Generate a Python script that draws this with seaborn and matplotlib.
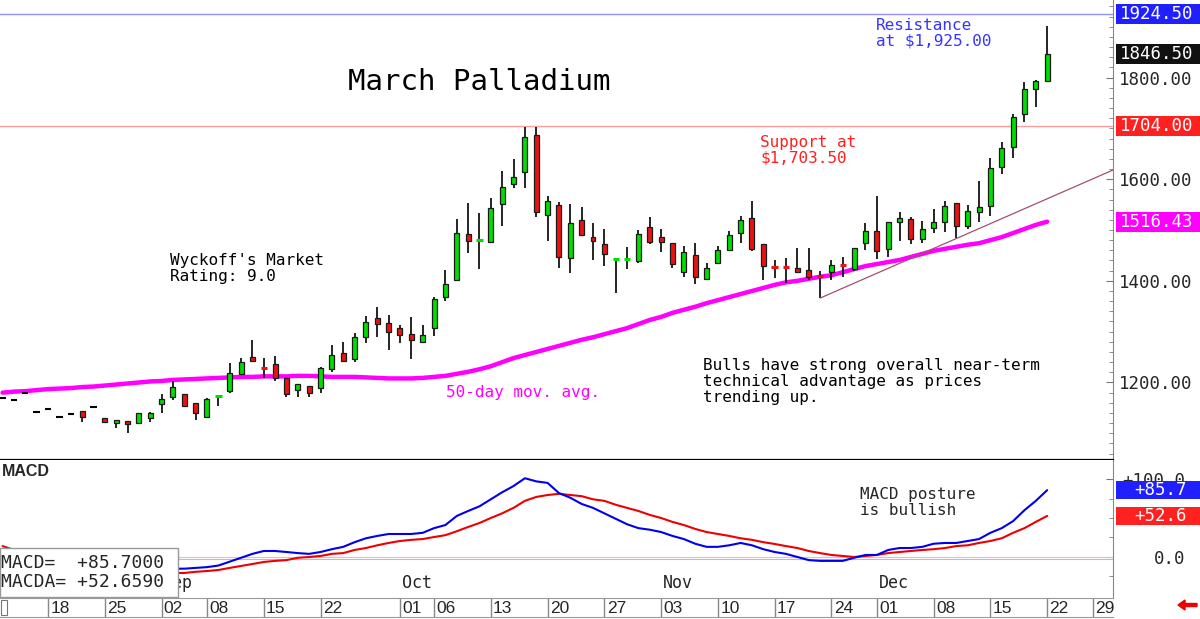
import numpy as np
import pandas as pd
import matplotlib
matplotlib.use("Agg")
import matplotlib.pyplot as plt
import matplotlib.transforms as mtransforms
from matplotlib.patches import Rectangle
import seaborn as sns

# --- trading calendar (2025, exchange holidays removed) ---
holidays = ["2025-09-01", "2025-11-27", "2025-12-25"]
calendar = [d for d in pd.bdate_range("2025-08-12", "2025-12-31")
            if d.strftime("%Y-%m-%d") not in holidays]
pos = {d.strftime("%Y-%m-%d"): i for i, d in enumerate(calendar)}

tick_dates = ["2025-08-18", "2025-08-25", "2025-09-02", "2025-09-08", "2025-09-15",
              "2025-09-22", "2025-10-01", "2025-10-06", "2025-10-13", "2025-10-20",
              "2025-10-27", "2025-11-03", "2025-11-10", "2025-11-17", "2025-11-24",
              "2025-12-01", "2025-12-08", "2025-12-15", "2025-12-22", "2025-12-29"]
month_dates = ["2025-09-02", "2025-10-01", "2025-11-03", "2025-12-01"]
month_labels = ["Sep", "Oct", "Nov", "Dec"]

# --- daily OHLC, March palladium ---
opens = [1169.5, 1165.6, 1179.4, 1142, 1148, 1132, 1138, 1144, 1152, 1130,
         1120, 1124, 1120, 1130, 1158, 1172, 1177, 1160, 1132, 1173,
         1183, 1217, 1250, 1229, 1236, 1209, 1185, 1193, 1189, 1226,
         1258, 1246, 1290, 1327, 1317, 1307, 1295, 1280, 1307, 1368,
         1402, 1492, 1480, 1476, 1551, 1590, 1614, 1687, 1529, 1549,
         1445, 1520, 1486, 1472, 1442, 1442, 1439, 1506, 1486, 1474,
         1417, 1451, 1404, 1435, 1461, 1494, 1524, 1472, 1428, 1428,
         1425, 1421, 1410, 1417, 1432, 1423, 1474, 1498, 1463, 1516,
         1522, 1482, 1504, 1516, 1553, 1508, 1535, 1547, 1624, 1663,
         1728, 1777, 1793]
highs = [1169.5, 1165.6, 1179.4, 1142, 1148, 1132, 1138, 1144, 1152, 1130,
         1126, 1124, 1140, 1141, 1178, 1203, 1178, 1160, 1170, 1174,
         1238, 1248, 1284, 1248, 1252, 1209, 1197, 1193, 1230, 1274,
         1280, 1297, 1331, 1348, 1333, 1313, 1329, 1313, 1368, 1421,
         1522, 1553, 1533, 1563, 1616, 1640, 1703, 1703, 1567, 1555,
         1551, 1545, 1514, 1502, 1443, 1467, 1500, 1526, 1502, 1474,
         1468, 1474, 1435, 1468, 1498, 1528, 1557, 1472, 1441, 1445,
         1465, 1465, 1419, 1441, 1447, 1465, 1514, 1567, 1516, 1535,
         1526, 1518, 1541, 1557, 1553, 1549, 1596, 1642, 1673, 1728,
         1791, 1795, 1901]
lows = [1169.5, 1165.6, 1179.4, 1142, 1148, 1132, 1138, 1122, 1152, 1122,
        1110, 1101, 1120, 1122, 1140, 1166, 1153, 1126, 1132, 1154,
        1179, 1216, 1242, 1209, 1203, 1171, 1171, 1171, 1179, 1220,
        1240, 1240, 1278, 1290, 1264, 1278, 1246, 1278, 1291, 1360,
        1402, 1455, 1423, 1476, 1508, 1583, 1583, 1526, 1478, 1425,
        1415, 1490, 1441, 1429, 1376, 1423, 1435, 1472, 1457, 1425,
        1408, 1394, 1404, 1435, 1461, 1474, 1459, 1402, 1406, 1396,
        1415, 1402, 1366, 1402, 1408, 1419, 1461, 1443, 1447, 1478,
        1472, 1474, 1494, 1496, 1484, 1502, 1516, 1527, 1610, 1642,
        1712, 1742, 1793]
closes = [1169.5, 1165.6, 1179.4, 1142, 1148, 1132, 1138, 1132, 1152, 1122,
          1126, 1118, 1140, 1140, 1168, 1191, 1154, 1140, 1168, 1174,
          1219, 1240, 1242, 1228, 1209, 1177, 1197, 1179, 1228, 1254,
          1242, 1290, 1319, 1315, 1299, 1293, 1284, 1293, 1364, 1394,
          1494, 1478, 1481, 1543, 1585, 1604, 1683, 1535, 1557, 1447,
          1514, 1490, 1478, 1453, 1443, 1443, 1492, 1476, 1476, 1433,
          1457, 1408, 1425, 1461, 1490, 1520, 1463, 1429, 1427, 1427,
          1417, 1408, 1409, 1431, 1431, 1465, 1498, 1459, 1516, 1524,
          1482, 1502, 1516, 1547, 1508, 1537, 1545, 1622, 1661, 1722,
          1777, 1793, 1846.5]

ma50 = [1180, 1182, 1183, 1185, 1187, 1188, 1189, 1191, 1192, 1194,
        1196, 1198, 1200, 1202, 1203, 1205, 1206, 1207, 1208, 1209,
        1210, 1211, 1211, 1212, 1212, 1212, 1213, 1213, 1212, 1211,
        1211, 1211, 1210, 1209, 1208, 1208, 1208, 1209, 1211, 1213,
        1217, 1221, 1226, 1232, 1240, 1248, 1254, 1260, 1266, 1272,
        1278, 1284, 1289, 1295, 1301, 1307, 1315, 1323, 1329, 1337,
        1343, 1349, 1356, 1362, 1368, 1374, 1380, 1386, 1392, 1397,
        1400, 1404, 1408, 1411, 1417, 1423, 1429, 1433, 1437, 1441,
        1447, 1453, 1459, 1463, 1467, 1471, 1474, 1480, 1486, 1494,
        1502, 1510, 1516.43]

macd = [-5, -7, -8, -10, -11, -13, -14, -15, -15, -16,
        -17, -18, -18, -17, -16, -15, -15, -14, -13, -11,
        -6, -1, 4, 7.7, 7.7, 6.4, 5, 4, 6.4, 10,
        13, 19, 24, 27, 29.5, 29.5, 29.5, 31, 37, 41,
        52.6, 59, 65, 74, 83, 91, 101, 97, 95, 82,
        76, 68, 63, 56, 49, 42, 37, 35, 32, 27,
        23, 17, 13, 13, 15, 18, 15, 10, 6.4, 4,
        0, -4, -5, -5, -5, -1, 2.6, 2.6, 9, 11.5,
        11.5, 13, 17, 18, 18, 20.5, 23, 31, 37, 46,
        60, 72, 85.7]
macda = [14, 9, 4, -1, -5, -8, -10, -12, -14, -15,
         -16, -17, -18, -19, -20, -20.5, -20.5, -19, -18, -16.7,
         -14, -11.5, -9, -6.4, -5, -4, -1, 0, 1.3, 4,
         5, 9, 11.5, 15, 18, 20.5, 22, 23, 25.6, 28,
         33, 38.5, 43.6, 50, 56, 63, 72, 77, 79.5, 81,
         79.5, 78, 74, 72, 67, 63, 59, 54, 50, 45,
         41, 36, 32, 29.5, 27, 24, 22, 19, 16.7, 14,
         11.5, 7.7, 5, 2.6, 1.3, 0, 1.3, 2.6, 5, 6.4,
         7.7, 9, 10, 11.5, 14, 15, 18, 20.5, 24, 31,
         37, 45, 52.659]

support_level = 1704.0
resistance_level = 1924.5
trend_x = [72, 98]
trend_y = [1366, 1620]

n = len(closes)
df = pd.DataFrame({"i": np.arange(n), "open": opens, "high": highs, "low": lows,
                   "close": closes, "ma": ma50, "macd": macd, "macda": macda})

sns.set_style("white")
plt.rcParams["font.family"] = ["DejaVu Sans Mono", "DejaVu Sans"]

W, H = 1200, 619
fig = plt.figure(figsize=(12, 6.19), dpi=100)


def rect(x0, y0, x1, y1):
    return [x0 / W, 1 - y1 / H, (x1 - x0) / W, (y1 - y0) / H]


ax = fig.add_axes(rect(0, 0, 1113, 460))
axm = fig.add_axes(rect(0, 460, 1113, 598))
axd = fig.add_axes(rect(0, 598, 1113, 617))
xlim = (-0.23, 97.8)
for a in (ax, axm, axd):
    a.set_xlim(*xlim)
    a.set_xticks([])
    a.set_facecolor("white")

GREEN, RED = "#00dd00", "#ee1111"

# --- price panel ---
ax.set_ylim(1047.5, 1952.5)
ax.axhline(support_level, color="#ff9d9d", lw=1, zorder=1)
ax.axhline(resistance_level, color="#8f8fff", lw=1, zorder=1)
sns.lineplot(data=df, x="i", y="ma", ax=ax, color="#ff00ff", lw=3.2, zorder=2)
sns.lineplot(x=trend_x, y=trend_y, ax=ax, color="#a0506e", lw=0.9, zorder=5)

flat = df[df.high == df.low]
ax.hlines(flat.close, flat.i - 0.28, flat.i + 0.28, color="black", lw=1.5, zorder=4)
rng = df[df.high != df.low]
ax.vlines(rng.i, rng.low, rng.high, color="black", lw=1.2, zorder=3)
doji = rng[(rng.close - rng.open).abs() < 2]
ax.hlines(doji.close, doji.i - 0.28, doji.i + 0.28,
          color=np.where(doji.close > doji.open, GREEN, RED), lw=2.2, zorder=4)
body = rng[(rng.close - rng.open).abs() >= 2]
ax.bar(body.i, (body.close - body.open).abs(), bottom=np.minimum(body.open, body.close),
       width=0.44, color=np.where(body.close > body.open, GREEN, RED),
       edgecolor="#1a1a1a", linewidth=0.9, zorder=4)

ax.set_xlabel("")
ax.set_ylabel("")
ax.yaxis.tick_right()
ax.set_yticks([1200, 1400, 1600, 1800])
ax.set_yticklabels([f"{v:.2f}" for v in [1200, 1400, 1600, 1800]], fontsize=12.5)
ax.set_yticks(np.arange(1060, 1950, 20), minor=True)
ax.tick_params(axis="y", which="major", direction="in", length=5, color="#777", pad=4)
ax.tick_params(axis="y", which="minor", direction="in", length=3, color="#777")
for s in ("top", "left"):
    ax.spines[s].set_visible(False)
ax.spines["right"].set_color("#888")
ax.spines["bottom"].set_color("black")
ax.spines["bottom"].set_linewidth(1.6)


def tag(axis, y, text, face, h, ha="left", x=1120):
    tr = mtransforms.blended_transform_factory(fig.transFigure, axis.transData)
    axis.add_patch(Rectangle((1116 / W, y - h / 2), (W - 1116) / W, h, transform=tr,
                             facecolor=face, edgecolor="none", clip_on=False, zorder=6))
    axis.text(x / W, y, text, transform=tr, color="white", ha=ha, va="center",
              fontsize=12.5, clip_on=False, zorder=7)


tag(ax, resistance_level, f"{resistance_level:.2f}", "#2020ff", 39)
tag(ax, closes[-1], f"{closes[-1]:.2f}", "#111111", 39)
tag(ax, support_level, f"{support_level:.2f}", "#ff2020", 39)
tag(ax, ma50[-1], f"{ma50[-1]:.2f}", "#ff00ff", 39)

ax.text(479 / 1113, 1 - 82 / 460, "March Palladium", transform=ax.transAxes,
        ha="center", va="center", fontsize=21, color="black")
note = dict(transform=ax.transAxes, ha="left", va="top", fontsize=11.5, linespacing=1.08)
ax.text(876 / 1113, 1 - 18 / 460, "Resistance\nat $1,925.00", color="#3535ff", **note)
ax.text(760 / 1113, 1 - 135 / 460, "Support at\n$1,703.50", color="#ff2020", **note)
ax.text(170 / 1113, 1 - 253 / 460, "Wyckoff's Market\nRating: 9.0", color="black", **note)
ax.text(703 / 1113, 1 - 358 / 460,
        "Bulls have strong overall near-term\ntechnical advantage as prices\ntrending up.",
        color="black", **note)
ax.text(446 / 1113, 1 - 393 / 460, "50-day mov. avg.", transform=ax.transAxes,
        ha="left", va="center", fontsize=11.5, color="#ff00ff")

# --- MACD panel ---
axm.set_ylim(-52.6, 124.4)
axm.axhline(0, color="#ffb4b4", lw=0.8, zorder=1)
axm.axhline(-3, color="#b4b4ff", lw=0.8, zorder=1)
sns.lineplot(data=df, x="i", y="macda", ax=axm, color="#ee0000", lw=1.5, zorder=3)
sns.lineplot(data=df, x="i", y="macd", ax=axm, color="#0000ee", lw=1.5, zorder=3)
axm.set_xlabel("")
axm.set_ylabel("")
axm.yaxis.tick_right()
axm.set_yticks([0, 100])
axm.set_yticklabels(["0.0", "+100.0"], fontsize=12.5)
axm.set_yticks([-25, 25, 50, 75], minor=True)
axm.tick_params(axis="y", which="major", direction="in", length=5, color="#777", pad=52)
axm.tick_params(axis="y", which="minor", direction="in", length=3, color="#777")
for lab in axm.get_yticklabels():
    lab.set_horizontalalignment("right")
for s in ("top", "left", "bottom"):
    axm.spines[s].set_visible(False)
axm.spines["right"].set_color("#888")

# the chart truncates the tag values to one decimal
tag(axm, macd[-1], f"{np.floor(macd[-1] * 10) / 10:+.1f}", "#2020ff", 23, ha="right", x=1187)
tag(axm, macda[-1], f"{np.floor(macda[-1] * 10) / 10:+.1f}", "#ff2020", 23, ha="right", x=1187)

axm.text(0.002, 1 - 11 / 138, "MACD", transform=axm.transAxes, ha="left", va="center",
         fontsize=11.5, fontweight="bold", family="Liberation Sans")
axm.text(860 / 1113, 1 - 27 / 138, "MACD posture\nis bullish", transform=axm.transAxes,
         ha="left", va="top", fontsize=11.5, linespacing=1.08)
for d, lab in zip(month_dates, month_labels):
    axm.text(pos[d] + 0.15, -33, lab, ha="left", va="center", fontsize=12, zorder=2)

axm.add_patch(Rectangle((0, 1 / 138), 178 / 1113, 49 / 138, transform=axm.transAxes,
                        facecolor="white", edgecolor="#999", lw=1, zorder=8))
axm.text(1 / 1113, 1 - 103 / 138, f"MACD=  {macd[-1]:+.4f}", transform=axm.transAxes,
         ha="left", va="center", fontsize=13, zorder=9)
axm.text(1 / 1113, 1 - 122 / 138, f"MACDA= {macda[-1]:+.4f}", transform=axm.transAxes,
         ha="left", va="center", fontsize=13, zorder=9)

# --- date strip ---
axd.set_ylim(0, 1)
axd.set_yticks([])
for d in tick_dates:
    axd.axvline(pos[d], color="#888", lw=1)
    axd.text(pos[d] + 0.2, 0.45, pd.Timestamp(d).strftime("%d"), ha="left", va="center",
             fontsize=12.5, family="Liberation Sans")
for s in ("left", "right"):
    axd.spines[s].set_visible(False)
for s in ("top", "bottom"):
    axd.spines[s].set_color("#999")
axd.add_patch(Rectangle((0.001, 0.12), 6 / 1113, 0.75, transform=axd.transAxes,
                        facecolor="white", edgecolor="#777", lw=0.8, clip_on=False))

fig.patches.append(matplotlib.patches.FancyArrow(1197 / W, 1 - 605 / H, -12 / W, 0,
                                                  width=3 / H, head_width=10 / H,
                                                  head_length=7 / W, color="#ee0000",
                                                  transform=fig.transFigure))

fig.savefig("out.png", dpi=100, facecolor="white")
